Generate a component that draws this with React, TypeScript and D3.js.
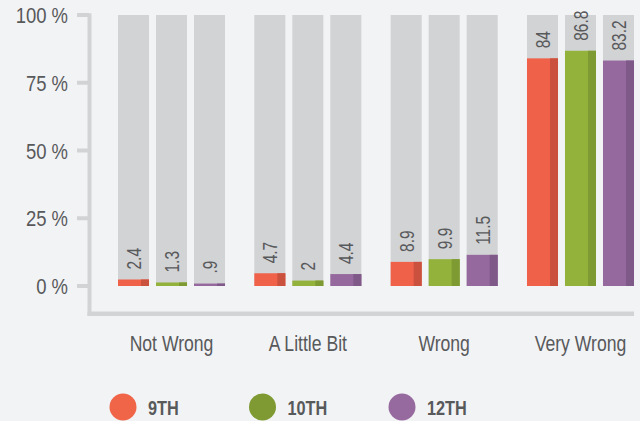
import React, { useEffect, useRef } from 'react';
import * as d3 from 'd3';

const categories = ['Not Wrong', 'A Little Bit', 'Wrong', 'Very Wrong'];
const grades = ['9TH', '10TH', '12TH'];
const values9th = [2.4, 4.7, 8.9, 84];
const values10th = [1.3, 2, 9.9, 86.8];
const values12th = [0.9, 4.4, 11.5, 83.2];
const yTicks = [0, 25, 50, 75, 100];

const colors = ['#F0614A', '#93B23B', '#96699E'];
const darkColors = ['#CA513D', '#7E9A33', '#7F5A89'];
const legendColors = ['#F06448', '#7F9A33', '#976A9F'];

const FONT = '"Liberation Sans", Arimo, Arial, sans-serif';
// the original uses a condensed face; squeeze a regular one horizontally
const SQUEEZE = 0.8;

const fmt = (v: number) => String(v).replace(/^0\./, '.');

export default function App() {
  const svgRef = useRef<SVGSVGElement>(null);

  useEffect(() => {
    if (!svgRef.current) return;
    const width = 640;
    const height = 421;
    const svg = d3.select(svgRef.current);
    svg.selectAll('*').remove();

    svg.append('rect').attr('width', width).attr('height', height).attr('fill', '#F2F3F5');

    const series = [values9th, values10th, values12th];

    const x0 = d3.scaleBand<string>().domain(categories).range([118, 634]).paddingInner(0.215).paddingOuter(0);
    const x1 = d3.scaleBand<number>().domain([0, 1, 2]).range([0, x0.bandwidth()]).paddingInner(0.184).paddingOuter(0);
    const y = d3.scaleLinear().domain([0, 100]).range([286, 15]);

    const axisColor = '#D2D3D5';
    const textColor = '#58595B';

    // axis frame
    svg.append('rect').attr('x', 87.5).attr('y', 13.3).attr('width', 4).attr('height', 316 - 13.3).attr('fill', axisColor);
    svg.append('rect').attr('x', 87.5).attr('y', 311.5).attr('width', 634 - 87.5).attr('height', 4.5).attr('fill', axisColor);

    const tick = svg.append('g').selectAll('g').data(yTicks).enter().append('g');
    tick.append('rect')
      .attr('x', 77).attr('y', d => y(d) - 2).attr('width', 12).attr('height', 4).attr('fill', axisColor);
    tick.append('text')
      .attr('transform', d => `translate(68,${y(d) + 8}) scale(${SQUEEZE * 1.05},1)`)
      .attr('text-anchor', 'end')
      .style('font-family', FONT).style('font-size', '22px').attr('fill', textColor)
      .text(d => `${d} %`);

    // bars
    const group = svg.append('g').selectAll('g').data(categories).enter().append('g')
      .attr('transform', d => `translate(${x0(d)},0)`);

    group.each(function (cat, ci) {
      const g = d3.select(this);
      series.forEach((vals, si) => {
        const bx = x1(si)!;
        const bw = x1.bandwidth();
        const v = vals[ci];
        g.append('rect').attr('x', bx).attr('y', y(100)).attr('width', bw).attr('height', y(0) - y(100)).attr('fill', axisColor);
        g.append('rect').attr('x', bx).attr('y', y(v)).attr('width', bw).attr('height', y(0) - y(v)).attr('fill', colors[si]);
        g.append('rect').attr('x', bx + bw - 8).attr('y', y(v)).attr('width', 8).attr('height', y(0) - y(v)).attr('fill', darkColors[si]);
        g.append('text')
          .attr('transform', `translate(${bx + bw / 2 + 7.5},${y(v) - 10}) rotate(-90) scale(${SQUEEZE * 0.92},1)`)
          .style('font-family', FONT).style('font-size', '21px').attr('fill', textColor)
          .text(fmt(v));
      });
    });

    // category labels
    svg.append('g').selectAll('text').data(categories).enter().append('text')
      .attr('transform', d => `translate(${x0(d)! + x0.bandwidth() / 2},351) scale(${SQUEEZE},1)`)
      .attr('text-anchor', 'middle')
      .style('font-family', FONT).style('font-size', '22px').attr('fill', textColor)
      .text(d => d);

    // legend
    const legend = svg.append('g').selectAll('g').data(grades).enter().append('g')
      .attr('transform', (d, i) => `translate(${123 + i * 139.5},407)`);
    legend.append('circle').attr('r', 13.5).attr('fill', (d, i) => legendColors[i]);
    legend.append('text')
      .attr('transform', `translate(25,8) scale(${SQUEEZE * 0.97},1)`)
      .style('font-family', FONT).style('font-size', '21px').style('font-weight', 'bold').attr('fill', textColor)
      .text(d => d);
  }, []);

  return (
    <svg ref={svgRef} width="640" height="421" viewBox="0 0 640 421"
      style={{ position: 'absolute', left: 0, top: 0, display: 'block' }}></svg>
  );
}
